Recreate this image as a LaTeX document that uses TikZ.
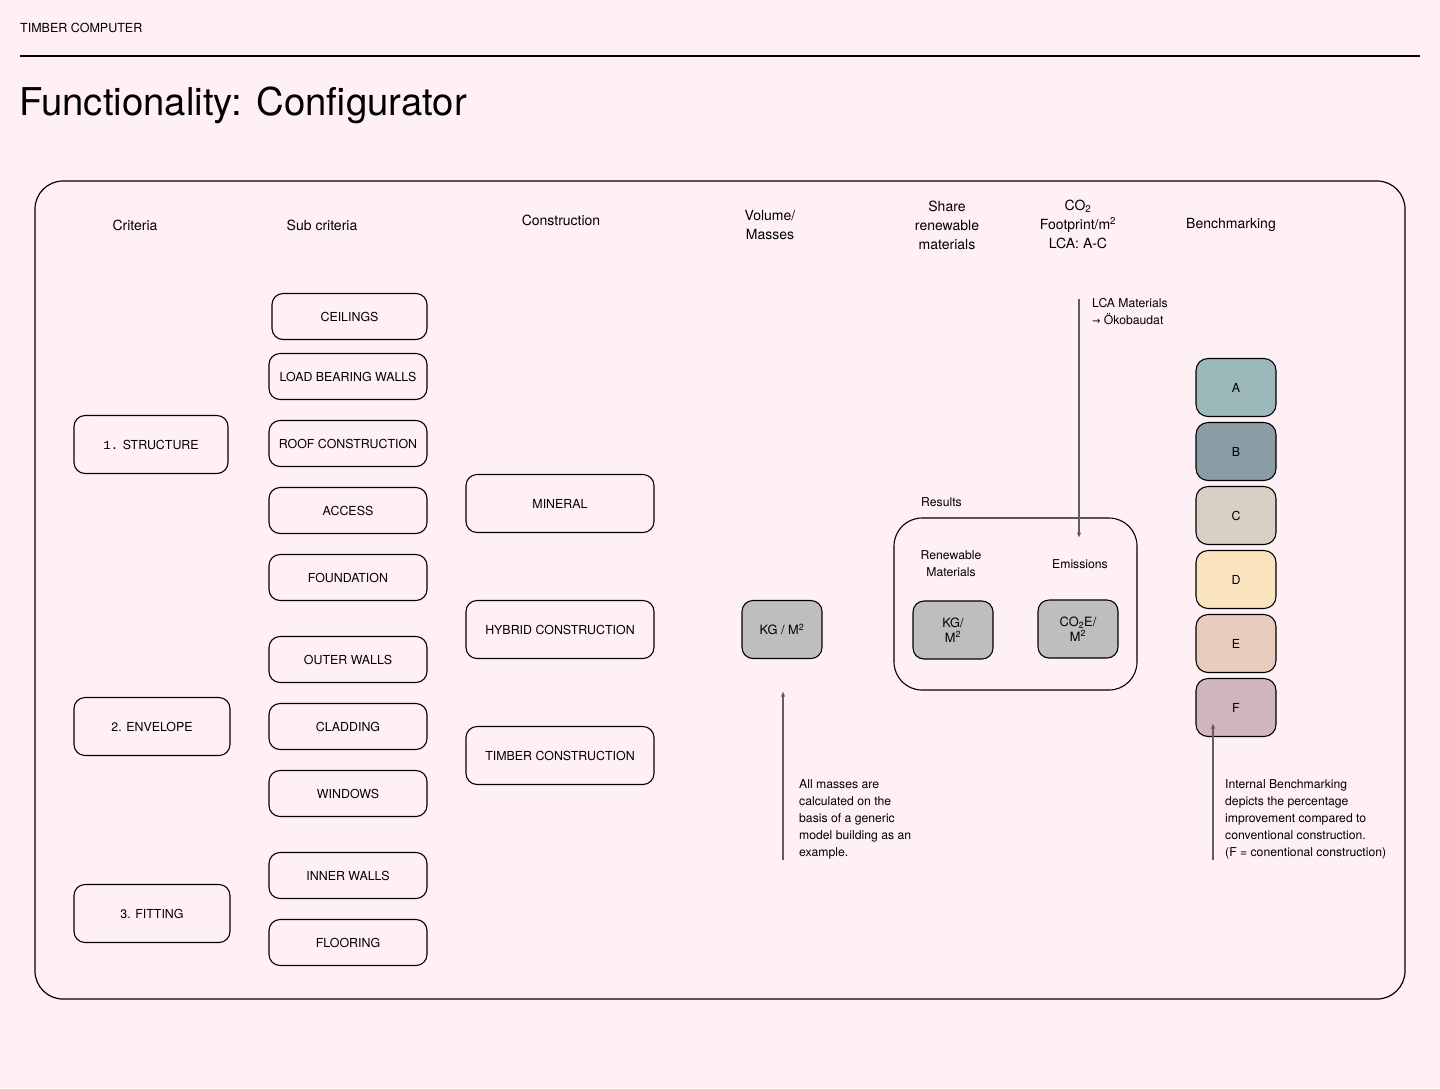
\documentclass[tikz,border=0pt]{standalone}
\usepackage{fontspec}
\setmainfont{TeX Gyre Heros}
\setmonofont{Liberation Mono}
\newfontfamily\dejavu{DejaVu Sans}
\usetikzlibrary{arrows.meta}
\definecolor{bg}{RGB}{255,240,245}
\definecolor{boxgray}{RGB}{190,190,190}
\definecolor{arrgray}{RGB}{95,95,95}
\definecolor{bmA}{RGB}{155,185,187}
\definecolor{bmB}{RGB}{138,157,165}
\definecolor{bmC}{RGB}{214,208,197}
\definecolor{bmD}{RGB}{250,228,190}
\definecolor{bmE}{RGB}{232,204,190}
\definecolor{bmF}{RGB}{208,182,188}
\newcommand\fsz[2]{\fontsize{#1}{#2}\selectfont}
\begin{document}
\begin{tikzpicture}[x=1pt,y=-1pt,
  box/.style={draw, line width=1.1pt, rounded corners=11pt, minimum width=158pt, minimum height=46pt, inner sep=0pt, font=\fsz{12.4}{14}},
  critbox/.style={box, minimum width=156pt, minimum height=58pt},
  consbox/.style={box, minimum width=188pt, minimum height=58pt},
  graybox/.style={box, fill=boxgray, minimum width=80pt, minimum height=58pt, align=center, font=\fsz{12.8}{15}},
  bmbox/.style={box, minimum width=80pt, minimum height=58pt, rounded corners=12pt},
  head/.style={align=center, inner sep=0pt, font=\fsz{14}{19}},
  note/.style={align=left, inner sep=0pt, font=\fsz{12.2}{17}},
  arr/.style={draw=arrgray, line width=1.4pt, -{Latex[length=5.5pt,width=4.5pt]}}
]
\useasboundingbox (0,0) rectangle (1440,1088);
\fill[bg] (0,0) rectangle (1440,1088);

% header
\node[anchor=west, inner sep=0pt, font=\fsz{12.5}{15}] (brand) at (20,27.5) {TIMBER COMPUTER};
\draw[line width=1.2pt] (20,56) -- (1420,56);
\node[anchor=base west, inner sep=0pt, font=\fsz{38.3}{44}] (title) at (19,115) {Functionality: Configurator};

% frame
\draw[line width=1.2pt, rounded corners=28pt] (35,181) rectangle (1405,999);

% column headers
\node[head] (hcrit) at (135,225) {Criteria};
\node[head] (hsub) at (322,225) {Sub criteria};
\node[head] (hcons) at (561,220) {Construction};
\node[head] (hvol) at (770,224.5) {Volume/\\Masses};
\node[head] (hshare) at (947,225) {Share\\renewable\\materials};
\node[head] (hco2) at (1078,224.5) {CO\textsubscript{2}\\Footprint/m\textsuperscript{2}\\LCA: A-C};
\node[head] (hbench) at (1231,225) {Benchmarking};

% criteria
\node[critbox, minimum width=154pt] (structure) at (151,444.5) {{\ttfamily 1.} STRUCTURE};
\node[critbox] (envelope) at (152,726.5) {2. ENVELOPE};
\node[critbox] (fitting) at (152,913.5) {3. FITTING};

% sub criteria
\node[box, minimum width=155pt] (ceilings) at (349.5,316.5) {CEILINGS};
\node[box] (lbw) at (348,376.5) {LOAD BEARING WALLS};
\node[box] (roof) at (348,443.5) {ROOF CONSTRUCTION};
\node[box] (access) at (348,510.5) {ACCESS};
\node[box] (foundation) at (348,577.5) {FOUNDATION};
\node[box] (outer) at (348,659.5) {OUTER WALLS};
\node[box] (cladding) at (348,726.5) {CLADDING};
\node[box] (windows) at (348,793.5) {WINDOWS};
\node[box] (inner) at (348,875.5) {INNER WALLS};
\node[box] (flooring) at (348,942.5) {FLOORING};

% construction
\node[consbox] (mineral) at (560,503.5) {MINERAL};
\node[consbox] (hybrid) at (560,629.5) {HYBRID CONSTRUCTION};
\node[consbox] (timber) at (560,755.5) {TIMBER CONSTRUCTION};

% volume
\node[graybox] (kg) at (782,629.5) {KG / M\textsuperscript{2}};
\coordinate (kgfoot) at (783,860);
\draw[arr] (kgfoot) -- ([yshift=-32pt]kg.south -| kgfoot);
\node[note, anchor=north west] (massnote) at (799,779.5) {All masses are\\calculated on the\\basis of a generic\\model building as an\\example.};

% results
\node[anchor=west, inner sep=0pt, font=\fsz{12.2}{14}] (reslabel) at (921,502.5) {Results};
\node[draw, line width=1.1pt, rounded corners=28pt, minimum width=243pt, minimum height=172pt, inner sep=0pt] (results) at (1015.5,604) {};
\node[note, align=center] (renew) at (951,564) {Renewable\\Materials};
\node[note, align=center] (emis) at (1080,564.5) {Emissions};
\node[graybox] (reskg) at (953,630) {KG/\\M\textsuperscript{2}};
\node[graybox] (resco2) at (1078,629) {CO\textsubscript{2}E/\\M\textsuperscript{2}};

% LCA arrow
\coordinate (lcatop) at (1079,299);
\coordinate (lcaend) at (1079,538);
\draw[arr] (lcatop) -- (lcaend);
\node[note, anchor=north west] (lcanote) at (1092,298.5) {LCA Materials\\{\dejavu\fsz{10}{17}→} Ökobaudat};

% benchmarking
\node[bmbox, fill=bmA] (bA) at (1236,387.5) {A};
\node[bmbox, fill=bmB] (bB) at (1236,451.5) {B};
\node[bmbox, fill=bmC] (bC) at (1236,515.5) {C};
\node[bmbox, fill=bmD] (bD) at (1236,579.5) {D};
\node[bmbox, fill=bmE] (bE) at (1236,643.5) {E};
\node[bmbox, fill=bmF] (bF) at (1236,707.5) {F};
\coordinate (bfoot) at (1213,860);
\draw[arr] (bfoot) -- ([yshift=14pt]bF.south -| bfoot);
\node[note, anchor=north west] (benchnote) at (1225,779.5) {Internal Benchmarking\\depicts the percentage\\improvement compared to\\conventional construction.\\(F = conentional construction)};
\end{tikzpicture}
\end{document}
